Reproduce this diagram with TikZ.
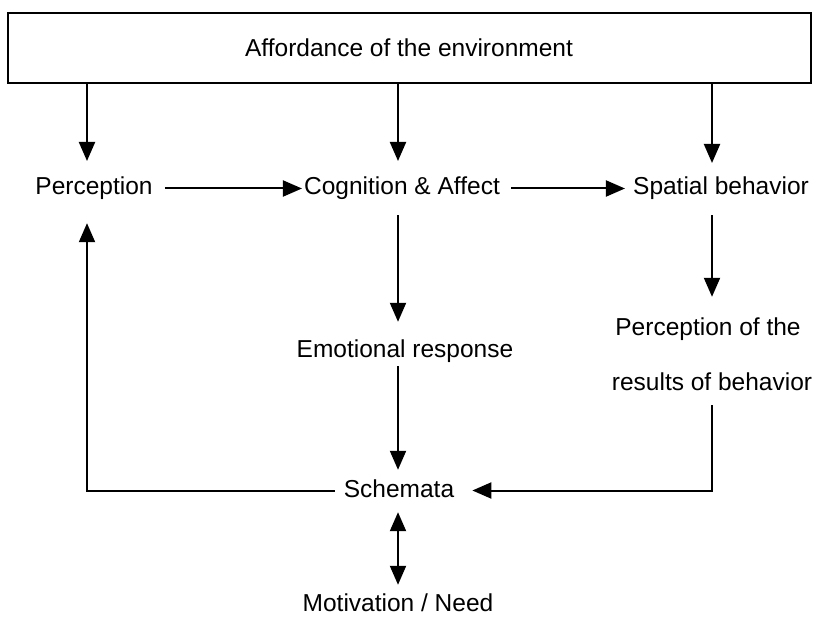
\documentclass[tikz,border=0pt]{standalone}
\usepackage{fontspec}
\setmainfont{Liberation Sans}
\usetikzlibrary{arrows.meta}
\begin{document}
\begin{tikzpicture}[x=1pt,y=-1pt,
  lbl/.style={anchor=base,inner xsep=2pt,inner ysep=0pt,text height=18pt,text depth=5pt,font=\fontsize{24.5}{26}\selectfont},
  topbox/.style={draw,line width=2pt,minimum width=803pt,minimum height=70pt,inner sep=0pt,font=\fontsize{24.5}{26}\selectfont},
  arr/.style={line width=2pt,-{Triangle[length=19pt,width=16pt]}},
  arrtwo/.style={line width=2pt,{Triangle[length=19pt,width=16pt]}-{Triangle[length=19pt,width=16pt]}}]
\useasboundingbox (0,0) rectangle (816,617);
\node[topbox] (top) at (409,48) {Affordance of the environment};
\node[lbl] (perc) at (94,195) {Perception};
\node[lbl] (cog) at (402,195) {Cognition \& Affect};
\node[lbl] (spat) at (721,195) {Spatial behavior};
\node[lbl] (emo) at (405,357) {Emotional response};
\node[lbl] (res1) at (708,336) {Perception of the};
\node[lbl] (res2) at (712,390) {results of behavior};
\node[lbl] (sch) at (399,497) {Schemata};
\node[lbl] (mot) at (398,611) {Motivation / Need};
\coordinate (pT) at (87,161);
\coordinate (cT) at (398,161);
\coordinate (sT) at (712,163);
\draw[arr] (top.south -| pT) -- (pT);
\draw[arr] (top.south -| cT) -- (cT);
\draw[arr] (top.south -| sT) -- (sT);
\draw[arr,shorten <=10pt] (perc.east) -- (cog.west);
\draw[arr,shorten <=9pt,shorten >=6pt] (cog.east) -- (spat.west);
\draw[arr,shorten <=15pt,shorten >=17pt] (cog.south -| cT) -- (emo.north -| cT);
\draw[arr,shorten <=4pt,shorten >=9pt] (emo.south -| cT) -- (sch.north -| cT);
\draw[arr,shorten <=15pt,shorten >=21pt] (spat.south -| sT) -- (res1.north -| sT);
\draw[arr,shorten <=10pt,shorten >=16pt] (res2.south -| sT) |- (sch.east);
\draw[arr,shorten <=7pt,shorten >=23pt] (sch.west) -| (perc.south -| pT);
\draw[arrtwo,shorten <=10pt,shorten >=8pt] (sch.south -| cT) -- (mot.north -| cT);
\end{tikzpicture}
\end{document}
